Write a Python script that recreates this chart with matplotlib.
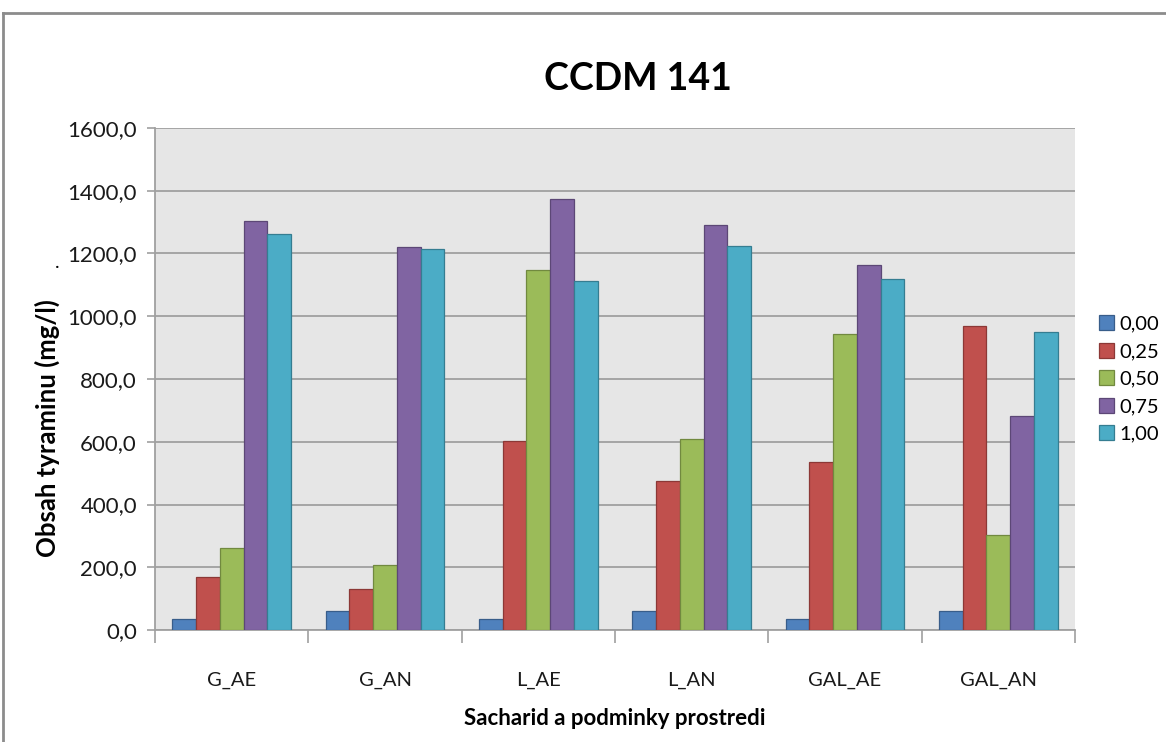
import matplotlib
matplotlib.use("Agg")
import matplotlib.pyplot as plt
import numpy as np
from matplotlib.lines import Line2D

categories = ["G_AE", "G_AN", "L_AE", "L_AN", "GAL_AE", "GAL_AN"]
series_names = ["0,00", "0,25", "0,50", "0,75", "1,00"]
s000 = [35, 60, 35, 60, 35, 60]
s025 = [168, 130, 602, 476, 537, 969]
s050 = [261, 208, 1146, 608, 943, 303]
s075 = [1305, 1221, 1375, 1292, 1164, 682]
s100 = [1263, 1215, 1112, 1224, 1119, 949]
series = [s000, s025, s050, s075, s100]
yticks = [0, 200, 400, 600, 800, 1000, 1200, 1400, 1600]

colors = ["#4F81BD", "#C0504D", "#9BBB59", "#8064A2", "#4BACC6"]
edges = ["#385D8A", "#8C3836", "#71893F", "#5C4776", "#357D91"]

plt.rcParams['font.family'] = ['Lato', 'DejaVu Sans']

fig = plt.figure(figsize=(11.66, 7.42), dpi=100)
ax = fig.add_axes([155/1166, 1-630/742, 920/1166, 502/742])
ax.set_facecolor("#E6E6E6")

x = np.arange(len(categories))
bw = 0.155
for i, (vals, c, e, name) in enumerate(zip(series, colors, edges, series_names)):
    ax.bar(x + (i - 2) * bw, vals, bw, color=c, edgecolor=e, linewidth=0.9,
           label=name, zorder=3)

ax.set_xlim(-0.5, len(categories) - 0.5)
ax.set_ylim(0, 1600)
ax.set_yticks(yticks)
ax.set_yticklabels([f"{v:.1f}".replace(".", ",") for v in yticks], fontsize=16,
                   color="#1a1a1a")
ax.yaxis.grid(True, color="#A0A0A0", linewidth=1.3, zorder=1)
ax.set_axisbelow(True)

ax.set_xticks(x)
ax.set_xticklabels(categories, fontsize=14.5, color="#1a1a1a")
ax.tick_params(axis='x', length=0, pad=30)
ax.set_xticks(np.arange(-0.5, len(categories) + 0.5, 1), minor=True)
ax.tick_params(axis='x', which='minor', length=9, color="#A0A0A0", width=1.2)
ax.tick_params(axis='y', length=6, color="#A0A0A0", width=1.2, pad=7)

for s in ["top", "right"]:
    ax.spines[s].set_visible(False)
for s in ["left", "bottom"]:
    ax.spines[s].set_color("#A0A0A0")
    ax.spines[s].set_linewidth(1.3)

ax.set_ylabel("Obsah tyraminu (mg/l)", fontsize=18.5, fontweight="bold")
ax.yaxis.set_label_coords(-95/920, (630-428)/502)
ax.set_xlabel("Sacharid a podminky prostredi", fontsize=16, fontweight="bold", labelpad=14)
fig.text(57/1166, 1-262/742, ".", fontsize=14, ha="center", va="center")

fig.text(638/1166, 1-79/742, "CCDM 141", fontsize=27, fontweight="bold",
         ha="center", va="center")

leg = ax.legend(loc="center left", bbox_to_anchor=(1 + 16/920, 0.5), borderaxespad=0,
                frameon=False, fontsize=14.5, handlelength=0.75, handleheight=0.75,
                handletextpad=0.25, labelspacing=0.5)
for h in leg.legend_handles:
    h.set_linewidth(0.9)

# outer chart border
fig.add_artist(Line2D([3/1166, 3/1166], [0, 1-13/742], transform=fig.transFigure,
                      color="#8C8C8C", linewidth=2))
fig.add_artist(Line2D([3/1166, 1], [1-13/742, 1-13/742], transform=fig.transFigure,
                      color="#8C8C8C", linewidth=2))

fig.savefig("out.png", dpi=100, facecolor="white")
